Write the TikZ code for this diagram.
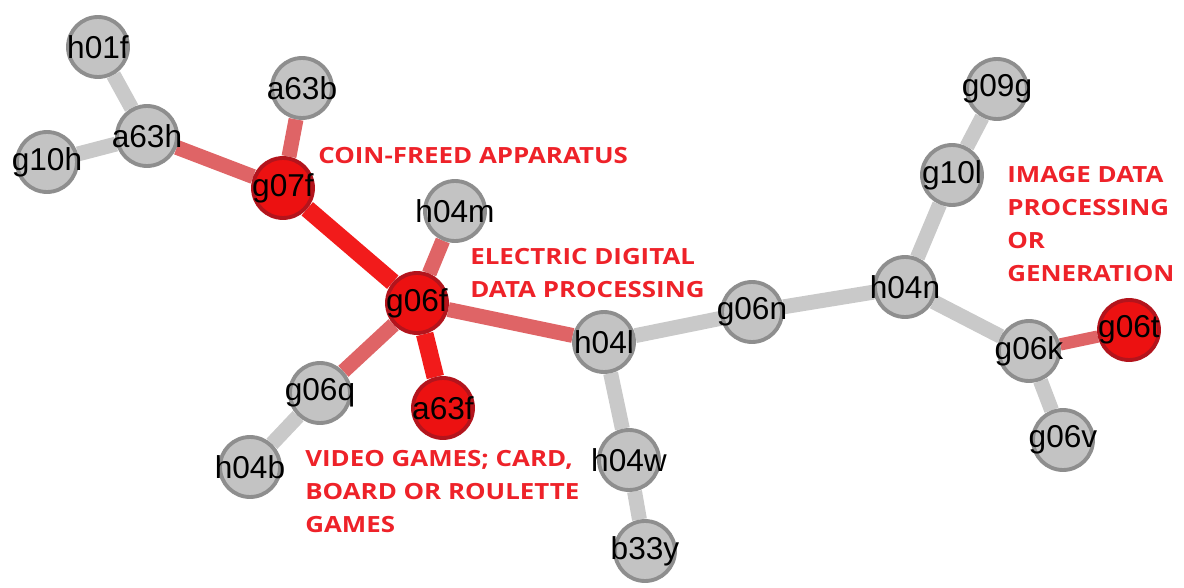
\documentclass[tikz,border=0pt]{standalone}
\usepackage{fontspec}
\setmainfont{Liberation Sans}
\newfontfamily\notefont[FakeStretch=1.16]{Open Sans}
\usetikzlibrary{backgrounds}
\definecolor{NodeGray}{HTML}{C3C3C3}
\definecolor{NodeRim}{HTML}{8E8E8E}
\definecolor{NodeRed}{HTML}{EC1111}
\definecolor{NodeRedRim}{HTML}{B3141C}
\definecolor{EdgeGray}{HTML}{C9C9C9}
\definecolor{EdgeRed}{HTML}{F21B1B}
\definecolor{EdgeSalmon}{HTML}{DF6466}
\definecolor{NoteRed}{HTML}{EE2229}

\begin{document}
\begin{tikzpicture}[x=0.02cm, y=-0.02cm,
  code/.style={circle, draw=NodeRim, fill=NodeGray, line width=2.2pt, minimum size=1.2cm, inner sep=0pt, label={[codetext]center:#1}},
  hotcode/.style={code=#1, draw=NodeRedRim, fill=NodeRed},
  codetext/.style={font=\fontsize{18}{18}\selectfont, text=black, inner sep=0pt},
  link/.style={line width=8.5pt, EdgeGray},
  hotlink/.style={line width=10pt, EdgeRed},
  warmlink/.style={line width=8.5pt, EdgeSalmon},
  note/.style={align=left, anchor=north west, text=NoteRed, inner sep=0pt, font=\notefont\bfseries\fontsize{12.7}{18.8}\selectfont}]
  \useasboundingbox (0,0) rectangle (1184,588);

  % class codes
  \node[code=h01f] (h01f) at (98,47) {};
  \node[code=a63h] (a63h) at (147,136) {};
  \node[code=g10h] (g10h) at (47,162) {};
  \node[code=a63b] (a63b) at (302,88) {};
  \node[hotcode=g07f] (g07f) at (283,188) {};
  \node[code=h04m] (h04m) at (455,211) {};
  \node[hotcode=g06f] (g06f) at (417,303) {};
  \node[code=g06q] (g06q) at (320,393) {};
  \node[hotcode=a63f] (a63f) at (443,408) {};
  \node[code=h04b] (h04b) at (250,467) {};
  \node[code=h04l] (h04l) at (604,342) {};
  \node[code=h04w] (h04w) at (629,460) {};
  \node[code=b33y] (b33y) at (645,551) {};
  \node[code=g06n] (g06n) at (752,312) {};
  \node[code=h04n] (h04n) at (905,287) {};
  \node[code=g10l] (g10l) at (952,175) {};
  \node[code=g09g] (g09g) at (997,89) {};
  \node[code=g06k] (g06k) at (1029,351) {};
  \node[hotcode=g06t] (g06t) at (1129,330) {};
  \node[code=g06v] (g06v) at (1063,440) {};

  % group captions
  \node[note] (coin) at (318,147) {COIN-FREED APPARATUS};
  \node[note] (elec) at (470,248) {ELECTRIC DIGITAL\\DATA PROCESSING};
  \node[note] (image) at (1007,166) {IMAGE DATA\\PROCESSING\\OR\\GENERATION};
  \node[note] (games) at (305,450) {VIDEO GAMES; CARD,\\BOARD OR ROULETTE\\GAMES};

  \begin{scope}[on background layer]
    \draw[link] (h01f) -- (a63h);
    \draw[link] (g10h) -- (a63h);
    \draw[warmlink] (a63h) -- (g07f);
    \draw[warmlink] (a63b) -- (g07f);
    \draw[hotlink] (g07f) -- (g06f);
    \draw[warmlink] (h04m) -- (g06f);
    \draw[hotlink] (g06f) -- (a63f);
    \draw[warmlink] (g06f) -- (g06q);
    \draw[link] (g06q) -- (h04b);
    \draw[warmlink] (g06f) -- (h04l);
    \draw[link] (h04l) -- (h04w);
    \draw[link] (h04w) -- (b33y);
    \draw[link] (h04l) -- (g06n);
    \draw[link] (g06n) -- (h04n);
    \draw[link] (h04n) -- (g10l);
    \draw[link] (g10l) -- (g09g);
    \draw[link] (h04n) -- (g06k);
    \draw[warmlink, line width=7pt] (g06k) -- (g06t);
    \draw[link] (g06k) -- (g06v);
  \end{scope}
\end{tikzpicture}
\end{document}
